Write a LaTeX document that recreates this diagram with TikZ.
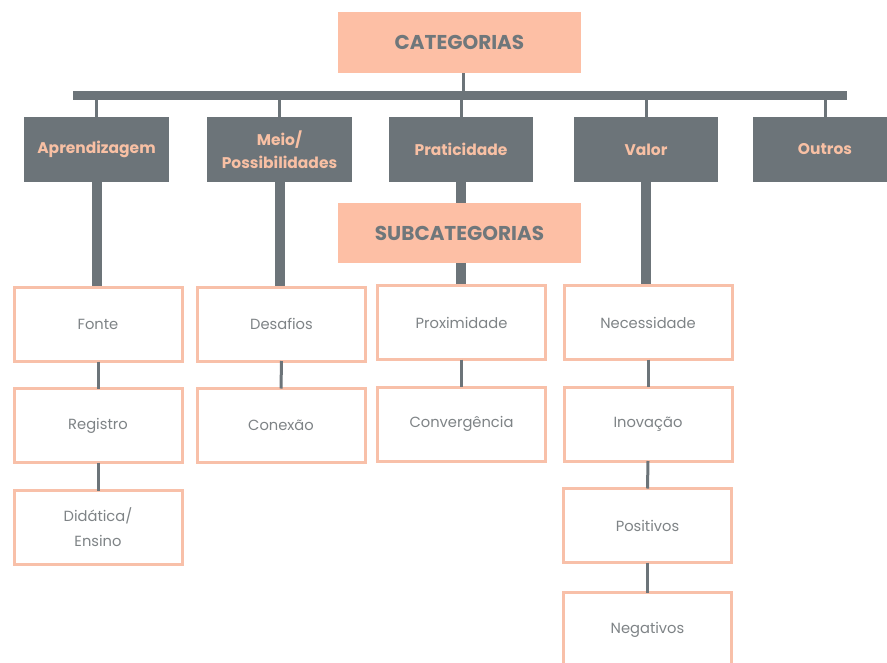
\documentclass[tikz,border=0pt]{standalone}
\usepackage{fontspec}
\setmainfont{Poppins}
\definecolor{peach}{HTML}{FDBFA5}
\definecolor{slate}{HTML}{6C7479}
\definecolor{headtxt}{HTML}{6F777B}
\definecolor{cattxt}{HTML}{F8C0A4}
\definecolor{subtxt}{HTML}{7E8386}
\definecolor{subline}{HTML}{F8C0A9}
\begin{document}
\begin{tikzpicture}[x=1pt,y=-1pt,
  headbox/.style={fill=peach, inner sep=0pt, text=headtxt, font=\fontsize{20}{24}\selectfont\bfseries},
  catbox/.style={fill=slate, inner sep=0pt, minimum width=145pt, minimum height=65pt, text=cattxt, align=center, font=\fontsize{15.5}{23}\selectfont\bfseries},
  subbox/.style={draw=subline, line width=3pt, fill=white, inner sep=0pt, minimum width=168pt, minimum height=74pt, text=subtxt, align=center, font=\fontsize{14.7}{25}\selectfont},
  tick/.style={draw=slate, line width=3pt},
  stem/.style={draw=slate, line width=10pt}
]
\useasboundingbox (0,0) rectangle (887,662);
\fill[white] (0,0) rectangle (887,662);

% top
\node[headbox, minimum width=243pt, minimum height=61pt] (cat) at (459.5,42.5) {CATEGORIAS};
\node[fill=slate, inner sep=0pt, minimum width=774pt, minimum height=9pt] (bar) at (460,95.5) {};

% categories
\node[catbox] (apr) at (96.5,149.5) {Aprendizagem};
\node[catbox] (meio) at (279.5,149.5) {Meio/\\Possibilidades};
\node[catbox, minimum width=144pt] (prat) at (461,149.5) {Praticidade};
\node[catbox, minimum width=144pt] (valor) at (646,149.5) {Valor};
\node[catbox] (outros) at (825,149.5) {Outros};

% subcategories
\node[subbox] (fonte) at (98,324.5) {Fonte};
\node[subbox] (reg) at (98,425.5) {Registro};
\node[subbox] (did) at (98,527.5) {Didática/\\Ensino};
\node[subbox] (des) at (281.5,324) {Desafios};
\node[subbox] (con) at (281,425.5) {Conexão};
\node[subbox] (prox) at (461.5,322.5) {Proximidade};
\node[subbox] (conv) at (461.5,424) {Convergência};
\node[subbox] (nec) at (648,322.5) {Necessidade};
\node[subbox] (inov) at (648,424) {Inovação};
\node[subbox] (pos) at (647.5,525.5) {Positivos};
\node[subbox] (neg) at (647.5,629.5) {Negativos};

\node[headbox, minimum width=243pt, minimum height=60pt] (sub) at (459.5,233) {SUBCATEGORIAS};

% connectors top
\draw[tick] ([xshift=3.5pt]cat.south) -- ([xshift=3.5pt]cat.south |- bar.north);
\foreach \n in {apr,meio,prat,valor,outros}
  \draw[tick] (\n.north) -- (\n.north |- bar.south);

% stems
\draw[stem] (apr.south) -- (apr.south |- fonte.north);
\draw[stem] (meio.south) -- (meio.south |- des.north);
\draw[stem] (prat.south) -- (prat.south |- sub.north);
\draw[stem] (prat.south |- sub.south) -- (prat.south |- prox.north);
\draw[stem] (valor.south) -- (valor.south |- nec.north);

% sub connectors
\draw[tick] ([yshift=1.5pt]fonte.south) -- ([yshift=-1.5pt]reg.north);
\draw[tick] ([yshift=1.5pt]reg.south) -- ([yshift=-1.5pt]did.north);
\draw[tick] ([yshift=1.5pt]des.south) -- ([yshift=-1.5pt]con.north);
\draw[tick] ([yshift=1.5pt]prox.south) -- ([yshift=-1.5pt]conv.north);
\draw[tick] ([yshift=1.5pt]nec.south) -- ([yshift=-1.5pt]inov.north);
\draw[tick] ([yshift=1.5pt]inov.south) -- ([yshift=-1.5pt]pos.north);
\draw[tick] ([yshift=1.5pt]pos.south) -- ([yshift=-1.5pt]neg.north);
\end{tikzpicture}
\end{document}
